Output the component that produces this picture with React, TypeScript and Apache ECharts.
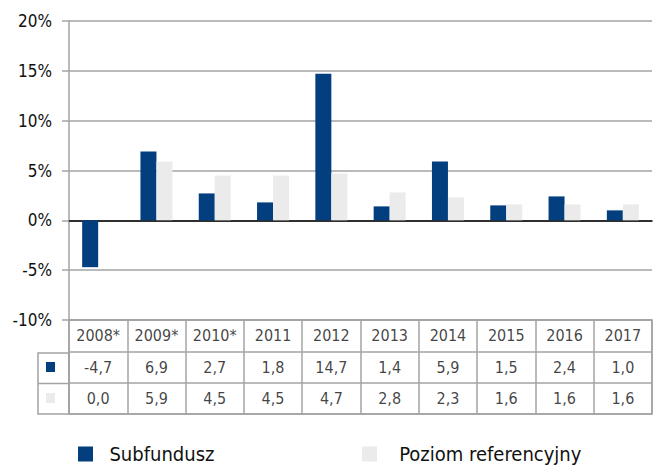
import React, { useEffect, useRef } from "react";
import * as echarts from "echarts";

const categories = ["2008*", "2009*", "2010*", "2011", "2012", "2013", "2014", "2015", "2016", "2017"];
const subfundusz = [-4.7, 6.9, 2.7, 1.8, 14.7, 1.4, 5.9, 1.5, 2.4, 1.0];
const poziom = [0.0, 5.9, 4.5, 4.5, 4.7, 2.8, 2.3, 1.6, 1.6, 1.6];
const seriesNames = ["Subfundusz", "Poziom referencyjny"];
const tableRows = ["head", "s1", "s2"];

const BLUE = "#033f7e";
const GRAY = "#ebebeb";
const LINE = "#a3a3a3";
const FONT = "'DejaVu Sans Condensed', 'Liberation Sans', sans-serif";

const fmt = (v: number) => v.toFixed(1).replace(".", ",");

export default function App() {
  const ref = useRef<HTMLDivElement>(null);
  useEffect(() => {
    if (!ref.current) return;
    const chart = echarts.init(ref.current, null, { renderer: "svg" });
    const tableData: any[] = [];
    categories.forEach((c, i) => {
      tableData.push([i, 0, c]);
      tableData.push([i, 1, fmt(subfundusz[i])]);
      tableData.push([i, 2, fmt(poziom[i])]);
    });
    const legendBase = {
      icon: "rect",
      itemWidth: 15,
      itemHeight: 15,
      top: 444,
      padding: 0,
      textStyle: { fontSize: 20, lineHeight: 20, color: "#111", fontFamily: FONT },
      selectedMode: false,
    };
    const option: any = {
      animation: false,
      textStyle: { fontFamily: FONT },
      grid: [
        { left: 69, right: 2, top: 21, height: 299 },
        { left: 69, right: 2, top: 320, height: 94, show: true, borderColor: LINE, borderWidth: 1.5 },
      ],
      xAxis: [
        {
          type: "category",
          gridIndex: 0,
          data: categories,
          axisLine: { show: true, onZero: true, lineStyle: { color: "#000", width: 1.5 } },
          axisTick: { show: false },
          axisLabel: { show: false },
        },
        {
          type: "category",
          gridIndex: 1,
          data: categories,
          position: "top",
          axisLine: { show: false },
          axisTick: { show: false },
          axisLabel: { show: false },
          splitLine: { show: true, lineStyle: { color: LINE, width: 1.5 } },
        },
      ],
      yAxis: [
        {
          type: "value",
          gridIndex: 0,
          min: -10,
          max: 20,
          interval: 5,
          axisLine: { show: true, lineStyle: { color: LINE, width: 1.5 } },
          axisTick: { show: true, length: 7, lineStyle: { color: LINE, width: 1.5 } },
          axisLabel: { formatter: "{value}%", color: "#111", fontSize: 17, fontFamily: FONT, margin: 17 },
          splitLine: { show: true, lineStyle: { color: LINE, width: 1.5 } },
        },
        {
          type: "category",
          gridIndex: 1,
          data: tableRows,
          inverse: true,
          axisLine: { show: false },
          axisTick: { show: false },
          axisLabel: { show: false },
          splitLine: { show: true, lineStyle: { color: LINE, width: 1.5 } },
        },
      ],
      legend: [
        { ...legendBase, data: [seriesNames[0]], left: 78, formatter: (n: string) => "  " + n },
        { ...legendBase, data: [seriesNames[1]], left: 362, formatter: (n: string) => "   " + n },
      ],
      graphic: [
        { type: "rect", shape: { x: 38, y: 353, width: 31, height: 61 }, style: { fill: "none", stroke: LINE, lineWidth: 1.5 } },
        { type: "line", shape: { x1: 38, y1: 383.5, x2: 69, y2: 383.5 }, style: { stroke: LINE, lineWidth: 1.5 } },
        { type: "rect", shape: { x: 46, y: 362, width: 9, height: 10 }, style: { fill: BLUE } },
        { type: "rect", shape: { x: 46, y: 393, width: 9, height: 10 }, style: { fill: GRAY } },
      ],
      series: [
        {
          name: seriesNames[0],
          type: "bar",
          xAxisIndex: 0,
          yAxisIndex: 0,
          data: subfundusz,
          barWidth: 16,
          barGap: "0%",
          itemStyle: { color: BLUE },
        },
        {
          name: seriesNames[1],
          type: "bar",
          xAxisIndex: 0,
          yAxisIndex: 0,
          data: poziom,
          barWidth: 16,
          barGap: "0%",
          itemStyle: { color: GRAY },
        },
        {
          name: "table",
          type: "scatter",
          xAxisIndex: 1,
          yAxisIndex: 1,
          data: tableData,
          symbolSize: 1,
          silent: true,
          itemStyle: { color: "rgba(0,0,0,0)" },
          label: {
            show: true,
            position: "inside",
            formatter: (p: any) => p.value[2],
            color: "#111",
            fontSize: 16,
            fontFamily: FONT,
          },
        },
      ],
    };
    chart.setOption(option);
    return () => chart.dispose();
  }, []);
  return <div ref={ref} style={{ width: 654, height: 465, position: "absolute", left: 0, top: 0 }} />;
}
